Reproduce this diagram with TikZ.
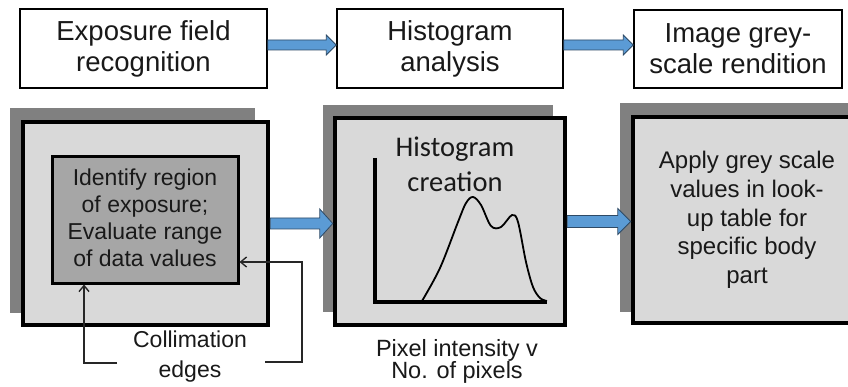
\documentclass[tikz,border=0pt]{standalone}
\usepackage{fontspec}
\setmainfont{Liberation Sans}
\newfontfamily\calibrilike{Carlito}
\usetikzlibrary{calc,arrows.meta}

\definecolor{arrowblue}{HTML}{5B9BD5}
\definecolor{arrowedge}{HTML}{2E4A66}
\definecolor{panelfill}{HTML}{D9D9D9}
\definecolor{shadowgrey}{HTML}{808080}
\definecolor{innerfill}{HTML}{A6A6A6}

\tikzset{
  stagebox/.style={draw=black, line width=1.5pt, fill=white, inner sep=0pt},
  panelbox/.style={draw=black, line width=4.5pt, fill=panelfill, inner sep=0pt},
  shadowbox/.style={fill=shadowgrey, inner sep=0pt},
  innerbox/.style={draw=black, line width=3pt, fill=innerfill, inner sep=0pt},
  label/.style={align=center, inner sep=0pt, text=black!90},
  pointer/.style={draw=black!85, line width=1.2pt, -{Straight Barb[length=6pt,width=10pt,line width=1.4pt]}},
  % block arrow from the start point to the target's x, at the start's height
  blockarrow/.style n args={3}{draw=arrowedge, fill=arrowblue, line width=0.8pt,
    to path={let \p1=(\tikztostart), \p2=(\tikztotarget) in
      (\x1,\y1+#1) -- (\x2-#3,\y1+#1) -- (\x2-#3,\y1+#2) -- (\x2,\y1)
      -- (\x2-#3,\y1-#2) -- (\x2-#3,\y1-#1) -- (\x1,\y1-#1) -- cycle}},
}

\begin{document}
\begin{tikzpicture}[x=1pt,y=-1pt]
\clip (0,0) rectangle (848,387);
\fill[white] (0,0) rectangle (848,387);

% ---- stage headings ----
\node[stagebox, minimum width=247pt, minimum height=79pt] (s1) at (143.5,48.5) {};
\node[stagebox, minimum width=226pt, minimum height=79pt] (s2) at (450,48.5) {};
\node[stagebox, minimum width=208pt, minimum height=78pt] (s3) at (738,49) {};

\node[label, font=\fontsize{27.5}{31}\selectfont] (t1) at (143.5,49) {Exposure field\\recognition};
\node[label, font=\fontsize{27.5}{31}\selectfont] (t2) at (450,49) {Histogram\\analysis};
\node[label, font=\fontsize{27.5}{31}\selectfont] (t3) at (738,49) {Image grey-\\scale rendition};

\draw[blockarrow={5pt}{10pt}{10pt}] ([yshift=3.5pt]s1.east) to ([yshift=3.5pt]s2.west);
\draw[blockarrow={5pt}{10pt}{10pt}] ([yshift=3.5pt]s2.east) to ([yshift=3.5pt]s3.west);

% ---- panel 1: exposure field ----
\node[shadowbox, minimum width=245pt, minimum height=205pt] (sh1) at (132.5,210.5) {};
\node[panelbox, minimum width=245pt, minimum height=203pt] (p1) at (145.5,223.5) {};
\node[innerbox, minimum width=186pt, minimum height=126pt] (in1) at (145,220) {};
\node[label, font=\fontsize{23}{27}\selectfont] (it1) at (145,218)
  {Identify region\\of exposure;\\Evaluate range\\of data values};

% ---- panel 2: histogram ----
\node[shadowbox, minimum width=230pt, minimum height=207pt] (sh2) at (438,208.5) {};
\node[panelbox, minimum width=230pt, minimum height=207pt] (p2) at (450,221.5) {};
\node[label, font={\calibrilike\fontsize{28.5}{35}\selectfont}] (hc) at (455,164) {Histogram\\creation};
\coordinate (ytop) at (375,158);
\coordinate (origin) at (375,302);
\coordinate (xend) at (547,302);
\draw[line width=3.5pt, line cap=butt] (ytop) -- (origin) -- (xend);
\draw[line width=1.8pt, line join=round] plot[smooth, tension=0.55] coordinates
  {(422,301) (440,268) (458,222) (466,203) (473,197) (481,205) (491,226) (501,227)
   (512,215) (518,222) (526,262) (533,287) (540,298) (547,301)};

% ---- panel 3: grey scale rendition ----
\node[shadowbox, minimum width=240pt, minimum height=209pt] (sh3) at (740,207.5) {};
\node[panelbox, minimum width=222pt, minimum height=206pt] (p3) at (744,220) {};
\node[label, font=\fontsize{24}{28.7}\selectfont] (pt3) at (747,220)
  {Apply grey scale\\values in look-\\up table for\\specific body\\part};

% ---- flow between panels ----
\draw[blockarrow={5.5pt}{14.5pt}{13pt}] (p1.east) to (p2.west);
\draw[blockarrow={6pt}{13pt}{13pt}] (p2.east) to (p3.west);

% ---- annotations ----
\node[label, font=\fontsize{23}{30}\selectfont] (coll) at (190,357) {Collimation\\edges};
\node[label, font=\fontsize{23.5}{22}\selectfont] (pix) at (457,361) {Pixel intensity v\\No. of pixels};

\coordinate (c1) at (117,363);
\coordinate (c1b) at (84,363);
\coordinate (c2) at (265,362);
\coordinate (c2b) at (302,362);
\coordinate (c2c) at (302,262);
\draw[pointer] (c1) -- (c1b) -- (c1b |- in1.south);
\draw[pointer] (c2) -- (c2b) -- (c2c) -- (c2c -| in1.east);
\end{tikzpicture}
\end{document}
